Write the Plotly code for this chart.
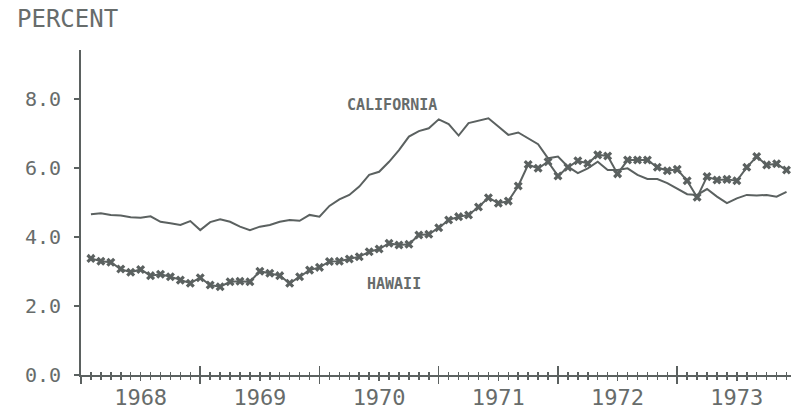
import plotly.graph_objects as go

months = list(range(1, 72))
california = [4.66, 4.69, 4.64, 4.62, 4.57, 4.56, 4.60, 4.44, 4.40, 4.35, 4.46, 4.20,
              4.43, 4.51, 4.44, 4.30, 4.20, 4.30, 4.35, 4.44, 4.49, 4.47, 4.64, 4.59,
              4.90, 5.09, 5.22, 5.46, 5.80, 5.89, 6.18, 6.52, 6.91, 7.07, 7.15, 7.41,
              7.27, 6.94, 7.30, 7.36, 7.44, 7.20, 6.96, 7.03, 6.86, 6.69, 6.28, 6.33,
              6.04, 5.85, 5.99, 6.18, 5.94, 5.94, 5.99, 5.80, 5.68, 5.68, 5.56, 5.41,
              5.24, 5.22, 5.39, 5.17, 4.98, 5.12, 5.22, 5.20, 5.22, 5.17, 5.31]
hawaii = [3.38, 3.30, 3.27, 3.07, 2.98, 3.06, 2.88, 2.92, 2.85, 2.75, 2.66, 2.82,
          2.61, 2.56, 2.70, 2.72, 2.70, 3.01, 2.95, 2.88, 2.66, 2.85, 3.04, 3.12,
          3.29, 3.30, 3.36, 3.43, 3.57, 3.65, 3.82, 3.77, 3.79, 4.06, 4.08, 4.27,
          4.49, 4.59, 4.64, 4.87, 5.14, 4.98, 5.04, 5.48, 6.10, 5.99, 6.18, 5.77,
          6.02, 6.21, 6.13, 6.38, 6.35, 5.83, 6.23, 6.23, 6.23, 6.02, 5.92, 5.96,
          5.63, 5.15, 5.75, 5.65, 5.67, 5.63, 6.02, 6.33, 6.09, 6.12, 5.94]

year_labels = ["1968", "1969", "1970", "1971", "1972", "1973"]
year_centers = [6, 18, 30, 42, 54, 66]
year_bounds = [0, 12, 24, 36, 48, 60, 72]
y_ticks = [0, 2, 4, 6, 8]
y_labels = ["0.0", "2.0", "4.0", "6.0", "8.0"]

INK = "#5b6160"
TXT = "#676c6b"
FONT = "DejaVu Sans Mono"
XR = [0, 71.45]

fig = go.Figure()
fig.add_trace(go.Scatter(x=months, y=california, mode="lines",
                         line=dict(color=INK, width=2), showlegend=False))
fig.add_trace(go.Scatter(x=months, y=hawaii, mode="lines+markers",
                         line=dict(color=INK, width=2),
                         marker=dict(symbol="x", size=8, color=INK,
                                     line=dict(width=0)),
                         showlegend=False))
fig.add_trace(go.Scatter(x=[None], y=[None], xaxis="x2", showlegend=False))
fig.add_trace(go.Scatter(x=[None], y=[None], xaxis="x3", showlegend=False))

fig.update_layout(
    width=801, height=413,
    margin=dict(l=81, r=10, t=50, b=38, autoexpand=False),
    paper_bgcolor="white", plot_bgcolor="white",
    font=dict(family=FONT, color=TXT),
    xaxis=dict(range=XR, showgrid=False, zeroline=False, automargin=False,
               showline=True, linecolor=INK, linewidth=2,
               tickvals=year_centers, ticktext=year_labels,
               ticks="outside", ticklen=4, tickwidth=1.5, tickcolor=INK,
               tickfont=dict(family=FONT, size=22, color=TXT),
               ticklabelstandoff=-2,
               minor=dict(tick0=0, dtick=1, ticks="outside", ticklen=3,
                          tickwidth=1.5, tickcolor=INK, showgrid=False)),
    xaxis2=dict(range=XR, overlaying="x", anchor="y", side="bottom",
                showgrid=False, zeroline=False, showline=False, automargin=False,
                tickvals=year_bounds, showticklabels=False,
                ticks="inside", ticklen=9, tickwidth=1.5, tickcolor=INK,
                minor=dict(tick0=0, dtick=1, ticks="inside", ticklen=3,
                           tickwidth=1.5, tickcolor=INK, showgrid=False)),
    xaxis3=dict(range=XR, overlaying="x", anchor="y", side="bottom",
                showgrid=False, zeroline=False, showline=False, automargin=False,
                tickvals=year_bounds, showticklabels=False,
                ticks="outside", ticklen=8, tickwidth=1.5, tickcolor=INK),
    yaxis=dict(range=[0, 9.42], showgrid=False, zeroline=False, automargin=False,
               showline=True, linecolor=INK, linewidth=2,
               tickvals=y_ticks, ticktext=y_labels,
               ticks="outside", ticklen=5, tickwidth=1.5, tickcolor=INK,
               tickfont=dict(family=FONT, size=20, color=TXT),
               ticklabelstandoff=9),
    annotations=[
        dict(text="PERCENT", xref="paper", yref="paper", x=-0.093, y=1.096,
             xanchor="left", yanchor="middle", showarrow=False,
             font=dict(family=FONT, size=24, color=TXT)),
        dict(text="<b>CALIFORNIA</b>", xref="x", yref="y", x=31.3, y=7.83,
             showarrow=False, font=dict(family=FONT, size=15, color=TXT)),
        dict(text="<b>HAWAII</b>", xref="x", yref="y", x=31.5, y=2.64,
             showarrow=False, font=dict(family=FONT, size=15, color=TXT)),
    ],
)

fig.write_html("out.html",
               config={"displayModeBar": False, "staticPlot": True},
               post_script="document.body.style.margin='0';")
